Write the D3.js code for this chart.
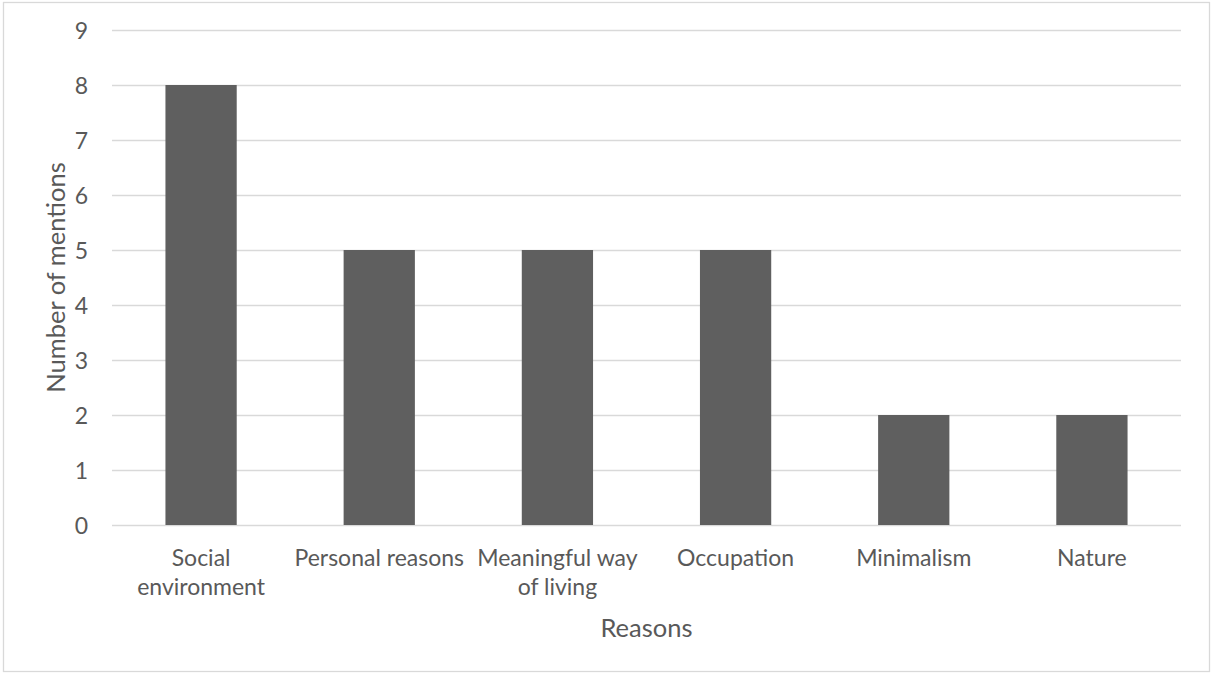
<!DOCTYPE html>
<html>
<head>
<meta charset="utf-8">
<script src="https://cdn.jsdelivr.net/npm/d3@7"></script>
<style>
  html, body { margin: 0; padding: 0; background: #fff; }
  svg { display: block; }
  text { font-family: Lato, "Open Sans", sans-serif; fill: #595959; }
</style>
</head>
<body>
<svg id="chart" width="1213" height="675"></svg>
<script>
// Reasons and how often each was mentioned
const categories = [
  ["Social", "environment"],
  ["Personal reasons"],
  ["Meaningful way", "of living"],
  ["Occupation"],
  ["Minimalism"],
  ["Nature"]
];
const mentions = [8, 5, 5, 5, 2, 2];
const yTicks = [0, 1, 2, 3, 4, 5, 6, 7, 8, 9];
const xTitle = "Reasons";
const yTitle = "Number of mentions";

const W = 1213, H = 675;
const plot = { left: 112, right: 1181, top: 30, bottom: 525 };

const svg = d3.select("#chart");

// outer chart frame
svg.append("rect")
  .attr("x", 3.5).attr("y", 2.5)
  .attr("width", 1206).attr("height", 669)
  .attr("fill", "#fff")
  .attr("stroke", "#d9d9d9")
  .attr("stroke-width", 1.3);

const labels = categories.map(c => c.join(" "));

const x = d3.scaleBand()
  .domain(labels)
  .range([plot.left, plot.right])
  .paddingInner(0.6)
  .paddingOuter(0.3);

const y = d3.scaleLinear()
  .domain([0, 9])
  .range([plot.bottom, plot.top]);

// horizontal gridlines
svg.append("g")
  .selectAll("line")
  .data(yTicks)
  .join("line")
  .attr("x1", plot.left).attr("x2", plot.right)
  .attr("y1", d => Math.round(y(d)) + 0.5)
  .attr("y2", d => Math.round(y(d)) + 0.5)
  .attr("stroke", "#d9d9d9")
  .attr("stroke-width", 1.3);

// y axis labels
const yAxis = d3.axisLeft(y).tickValues(yTicks).tickSize(0).tickPadding(0);
const gy = svg.append("g")
  .attr("transform", `translate(88,0)`)
  .call(yAxis);
gy.select(".domain").remove();
gy.selectAll("text")
  .attr("font-size", 23)
  .attr("fill", "#595959")
  .attr("font-family", "Lato, 'Open Sans', sans-serif")
  .attr("dy", "0.35em");

// bars
svg.append("g")
  .selectAll("rect")
  .data(mentions)
  .join("rect")
  .attr("x", (d, i) => x(labels[i]))
  .attr("width", x.bandwidth())
  .attr("y", d => y(d))
  .attr("height", d => y(0) - y(d))
  .attr("fill", "#5f5f5f");

// category labels, wrapped over two lines where needed
const xAxis = d3.axisBottom(x).tickSize(0).tickFormat(() => "");
const gx = svg.append("g")
  .attr("transform", `translate(0,${plot.bottom})`)
  .call(xAxis);
gx.select(".domain").remove();
gx.selectAll(".tick").each(function(d, i) {
  const t = d3.select(this).append("text")
    .attr("text-anchor", "middle")
    .attr("font-size", 23)
    .attr("fill", "#595959");
  categories[i].forEach((line, k) => {
    t.append("tspan")
      .attr("x", 0)
      .attr("y", 41 + k * 29)
      .text(line);
  });
});

// axis titles
svg.append("text")
  .attr("x", (plot.left + plot.right) / 2)
  .attr("y", 637)
  .attr("text-anchor", "middle")
  .attr("font-size", 25.5)
  .text(xTitle);

svg.append("text")
  .attr("transform", `translate(65,${(plot.top + plot.bottom) / 2}) rotate(-90)`)
  .attr("text-anchor", "middle")
  .attr("font-size", 25.5)
  .text(yTitle);
</script>
</body>
</html>
